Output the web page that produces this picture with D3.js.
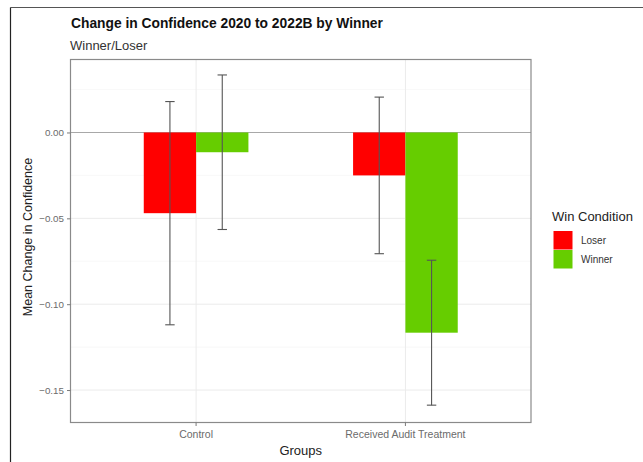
<!DOCTYPE html>
<html>
<head>
<meta charset="utf-8">
<script src="https://cdn.jsdelivr.net/npm/d3@7"></script>
<style>
  html, body { margin: 0; padding: 0; background: #fff; }
  svg { display: block; font-family: "Liberation Sans", Arial, sans-serif; }
</style>
</head>
<body>
<svg id="chart" width="643" height="462"></svg>
<script>
// Groups on the x axis and the two win conditions
const groups = ["Control", "Received Audit Treatment"];
const conditions = ["Loser", "Winner"];
const conditionColors = ["#ff0000", "#66cd00"];

// Mean change in confidence, per group, per condition
const loserMeans = [-0.047, -0.025];
const winnerMeans = [-0.0115, -0.1166];
// Half-width of the error bars
const loserErr = [0.065, 0.0456];
const winnerErr = [0.045, 0.0422];

const yTicks = [0.00, -0.05, -0.10, -0.15];
const yMinorTicks = [0.025, -0.025, -0.075, -0.125];

const rows = [];
groups.forEach((g, i) => {
  rows.push({ group: g, cond: "Loser", mean: loserMeans[i], err: loserErr[i] });
  rows.push({ group: g, cond: "Winner", mean: winnerMeans[i], err: winnerErr[i] });
});

const svg = d3.select("#chart");
const panel = { left: 70.5, right: 531, top: 59.5, bottom: 422.5 };

// outer frame (left and top edges)
svg.append("line").attr("x1", 10.5).attr("x2", 643).attr("y1", 7.5).attr("y2", 7.5)
  .attr("stroke", "#555").attr("stroke-width", 1);
svg.append("line").attr("x1", 10.5).attr("x2", 10.5).attr("y1", 7.5).attr("y2", 462)
  .attr("stroke", "#222").attr("stroke-width", 1.2);

// discrete x scale with ggplot-like 0.6 unit padding
const xCont = d3.scaleLinear().domain([0.4, 2.6]).range([panel.left, panel.right]);
const xPos = g => xCont(groups.indexOf(g) + 1);
const barW = 0.25; // each bar width in group units
const xDodge = d3.scaleBand().domain(conditions).range([-barW, barW]);

const y = d3.scaleLinear().domain([-0.1689, 0.0425]).range([panel.bottom, panel.top]);

// grid
const grid = svg.append("g");
yMinorTicks.forEach(t => {
  grid.append("line").attr("x1", panel.left).attr("x2", panel.right)
    .attr("y1", y(t)).attr("y2", y(t)).attr("stroke", "#f4f4f4").attr("stroke-width", 0.6);
});
yTicks.forEach(t => {
  grid.append("line").attr("x1", panel.left).attr("x2", panel.right)
    .attr("y1", y(t)).attr("y2", y(t)).attr("stroke", "#ebebeb").attr("stroke-width", 1);
});
groups.forEach(g => {
  grid.append("line").attr("x1", xPos(g)).attr("x2", xPos(g))
    .attr("y1", panel.top).attr("y2", panel.bottom).attr("stroke", "#ebebeb").attr("stroke-width", 1);
});

// zero reference line
svg.append("line").attr("x1", panel.left).attr("x2", panel.right)
  .attr("y1", y(0)).attr("y2", y(0)).attr("stroke", "#a8a8a8").attr("stroke-width", 1.2);

const color = d3.scaleOrdinal().domain(conditions).range(conditionColors);

// bars
svg.append("g").selectAll("rect").data(rows).join("rect")
  .attr("x", d => xCont(groups.indexOf(d.group) + 1 + xDodge(d.cond)))
  .attr("width", d => xCont(barW) - xCont(0))
  .attr("y", d => y(Math.max(0, d.mean)))
  .attr("height", d => Math.abs(y(d.mean) - y(0)))
  .attr("fill", d => color(d.cond));

// error bars
const capHalf = 0.0225;
const eb = svg.append("g").attr("stroke", "#555").attr("stroke-width", 1.1).attr("fill", "none");
rows.forEach(d => {
  const cx = groups.indexOf(d.group) + 1 + xDodge(d.cond) + barW / 2;
  const lo = d.mean - d.err, hi = d.mean + d.err;
  eb.append("line").attr("x1", xCont(cx)).attr("x2", xCont(cx)).attr("y1", y(hi)).attr("y2", y(lo));
  [lo, hi].forEach(v => {
    eb.append("line").attr("x1", xCont(cx - capHalf)).attr("x2", xCont(cx + capHalf))
      .attr("y1", y(v)).attr("y2", y(v));
  });
});

// panel border
svg.append("rect").attr("x", panel.left).attr("y", panel.top)
  .attr("width", panel.right - panel.left).attr("height", panel.bottom - panel.top)
  .attr("fill", "none").attr("stroke", "#8a8a8a").attr("stroke-width", 1.2);

// y axis
const yAxis = svg.append("g").attr("transform", `translate(${panel.left},0)`)
  .call(d3.axisLeft(y).tickValues(yTicks).tickFormat(d3.format(".2f")).tickSize(3.5).tickPadding(3));
yAxis.select(".domain").remove();
yAxis.selectAll(".tick line").attr("stroke", "#7a7a7a");
yAxis.selectAll(".tick text").attr("fill", "#6b6b6b").attr("font-size", 9.8)
  .attr("font-family", "Liberation Sans, Arial, sans-serif");

// x axis
const xAxis = svg.append("g").attr("transform", `translate(0,${panel.bottom})`);
groups.forEach(g => {
  xAxis.append("line").attr("x1", xPos(g)).attr("x2", xPos(g)).attr("y1", 0).attr("y2", 3.5)
    .attr("stroke", "#7a7a7a");
  xAxis.append("text").attr("x", xPos(g)).attr("y", 15.5).attr("text-anchor", "middle")
    .attr("fill", "#6b6b6b").attr("font-size", 10.5).text(g);
});

// axis titles
svg.append("text").attr("x", (panel.left + panel.right) / 2).attr("y", 455)
  .attr("text-anchor", "middle").attr("font-size", 13).attr("fill", "#222").text("Groups");
svg.append("text").attr("transform", `translate(32,${(panel.top + panel.bottom) / 2 - 4}) rotate(-90)`)
  .attr("text-anchor", "middle").attr("font-size", 12.5).attr("fill", "#222")
  .text("Mean Change in Confidence");

// title and subtitle
svg.append("text").attr("x", 71).attr("y", 28).attr("font-size", 13.8).attr("font-weight", "bold")
  .attr("fill", "#111").text("Change in Confidence 2020 to 2022B by Winner");
svg.append("text").attr("x", 70).attr("y", 50).attr("font-size", 13).attr("fill", "#333")
  .text("Winner/Loser");

// legend
const lg = svg.append("g").attr("transform", "translate(552,0)");
lg.append("text").attr("x", 0).attr("y", 221).attr("font-size", 13).attr("fill", "#222").text("Win Condition");
conditions.forEach((c, i) => {
  lg.append("rect").attr("x", 1.5).attr("y", 231 + i * 19).attr("width", 19).attr("height", 18.5)
    .attr("fill", conditionColors[i]);
  lg.append("text").attr("x", 29).attr("y", 244 + i * 19).attr("font-size", 10)
    .attr("fill", "#333").text(c);
});
</script>
</body>
</html>
